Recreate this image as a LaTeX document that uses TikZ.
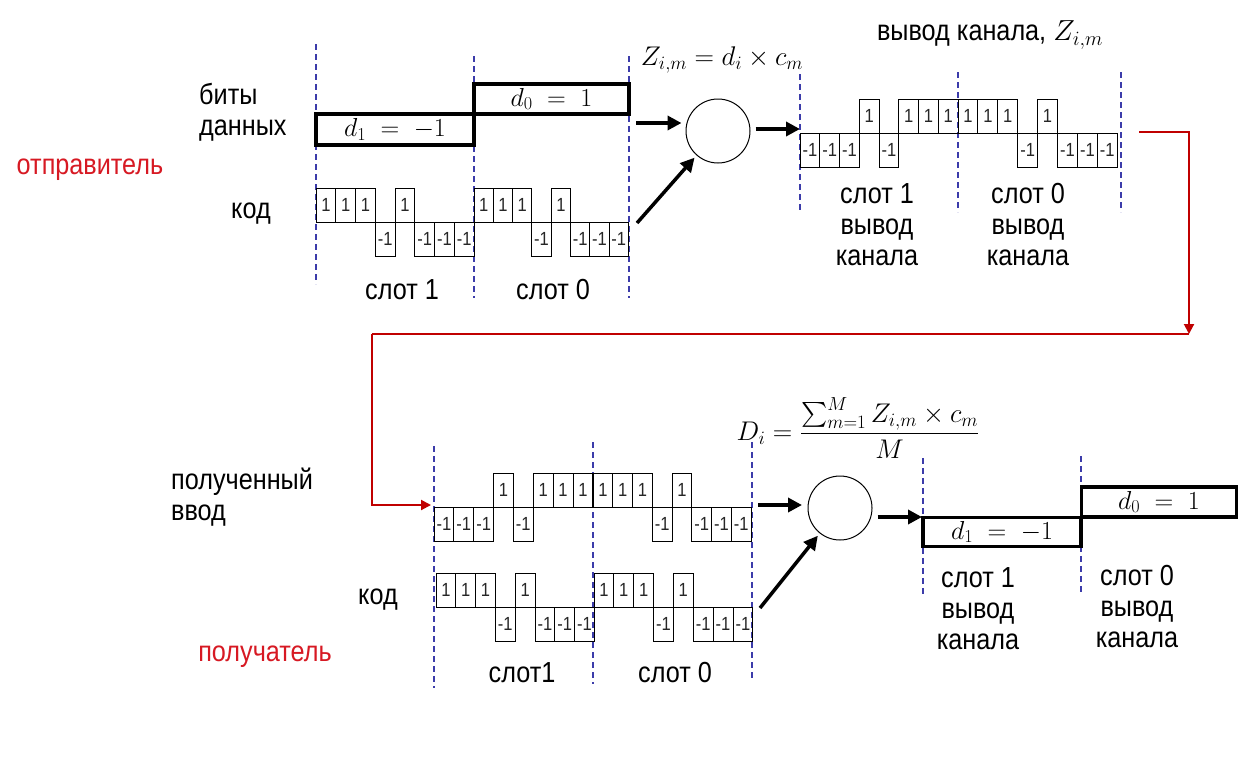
\RequirePackage{fix-cm}
\documentclass[tikz,border=0pt]{standalone}
\usepackage{amsmath}
\usepackage{fontspec}
\setmainfont{Liberation Sans}
\newfontfamily\labfont[FakeStretch=0.87]{Liberation Sans}
\usetikzlibrary{arrows.meta,calc}
\definecolor{dashblue}{RGB}{60,60,170}
\definecolor{redline}{RGB}{192,0,0}
\definecolor{redtext}{RGB}{215,25,35}
\tikzset{
  slotline/.style={dashblue, line width=1.3pt, dash pattern=on 6pt off 4pt},
  bitbox/.style={draw, line width=3.5pt, inner sep=0pt, font=\fontsize{26}{28}\selectfont},
  chip/.style={draw, line width=0.9pt},
  chiplab/.style={font=\labfont\fontsize{19}{19}\selectfont, inner sep=0pt, text=black!85},
  lab/.style={font=\labfont\fontsize{29}{31}\selectfont, align=center, inner sep=0pt},
  mathlab/.style={font=\fontsize{27}{30}\selectfont, inner sep=0pt},
  mult/.style={draw, circle, line width=1pt, minimum size=64pt, inner sep=0pt},
  bigarrow/.style={line width=3.5pt, -{Triangle[length=14pt,width=14pt]}},
  redarrow/.style={redline, line width=2pt, -{Triangle[length=10pt,width=10pt]}},
  redpath/.style={redline, line width=2pt},
}
% #1 x0, #2 baseline, #3 chip width, #4 height, #5 values, #6 name prefix
\newcommand\chipwave[6]{%
  \foreach \v [count=\k from 0] in {#5}{%
    \pgfmathsetmacro\xa{#1+\k*#3}%
    \pgfmathsetmacro\xb{#1+(\k+1)*#3}%
    \pgfmathsetmacro\xm{#1+(\k+0.5)*#3}%
    \ifnum\v>0
      \draw[chip] (\xa,#2) rectangle (\xb,#2-#4);
      \node[chiplab] (#6-\k) at (\xm,#2-#4/2) {1};
    \else
      \draw[chip] (\xa,#2) rectangle (\xb,#2+#4);
      \node[chiplab] (#6-\k) at (\xm,#2+#4/2) {-1};
    \fi
  }%
}
\begin{document}
\begin{tikzpicture}[x=1pt,y=-1pt]
\useasboundingbox[fill=white] (0,0) rectangle (1252,766);

% ---------------- sender ----------------
\draw[slotline] (316,44) -- (316,284);
\draw[slotline] (474,56) -- (474,298);
\draw[slotline] (629,56) -- (629,298);

\node[bitbox, minimum width=158pt, minimum height=31pt] (d1box) at (395,129.5) {$d_1\;=\;-1$};
\node[bitbox, minimum width=155pt, minimum height=30pt] (d0box) at (551.5,99) {$d_0\;=\;1$};

\chipwave{316}{222}{19.75}{34}{1,1,1,-1,1,-1,-1,-1}{ca}
\chipwave{474}{222}{19.3}{34}{1,1,1,-1,1,-1,-1,-1}{cb}

\node[lab, align=left, anchor=west] (bitslab) at (199,112) {биты\\данных};
\node[lab] (codelab1) at (251,214) {код};
\node[lab] (slot1a) at (402,290) {слот 1};
\node[lab] (slot0a) at (553,290) {слот 0};
\node[lab, text=redtext] (sender) at (90,170) {отправитель};

\node[mult] (mult1) at (718,131) {};
\node[mathlab] (zform) at (722,60) {$Z_{i,m} = d_i \times c_m$};

\coordinate (bitsout) at (636,123);
\coordinate (codeout) at (637,223);
\coordinate (chanin) at (800,129);
\draw[bigarrow, shorten >=4pt] (bitsout) -- (bitsout -| mult1.west);
\draw[bigarrow, shorten >=3pt] (codeout) -- (mult1);
\draw[bigarrow, shorten <=5pt] (mult1.east |- chanin) -- (chanin);

% channel output
\draw[slotline] (800,74) -- (800,212);
\draw[slotline] (958,72) -- (958,212);
\draw[slotline] (1121,72) -- (1121,212);
\chipwave{800}{133}{19.75}{34}{-1,-1,-1,1,-1,1,1,1}{za}
\chipwave{958}{133}{19.9}{34}{1,1,1,-1,1,-1,-1,-1}{zb}
\node[lab] (chanlab) at (990,35) {вывод канала, $Z_{i,m}$};
\node[lab] (chs1) at (877,225) {слот 1\\вывод\\канала};
\node[lab] (chs0) at (1028,225) {слот 0\\вывод\\канала};

% red connector
\coordinate (chanend) at (1139,132);
\coordinate (turn1) at (1189,334);
\coordinate (turn2) at (372,334);
\coordinate (rxin) at (431,505);
\draw[redarrow] (chanend) -| (turn1);
\draw[redpath] (turn1) -- (turn2);
\draw[redarrow] (turn2) |- (rxin);

% ---------------- receiver ----------------
\draw[slotline] (434,446) -- (434,688);
\draw[slotline] (593,442) -- (593,684);
\draw[slotline] (752,442) -- (752,680);

\chipwave{434}{507}{19.85}{34}{-1,-1,-1,1,-1,1,1,1}{ra}
\chipwave{593}{507}{19.75}{34}{1,1,1,-1,1,-1,-1,-1}{rb}
\chipwave{436}{607}{19.8}{34}{1,1,1,-1,1,-1,-1,-1}{ka}
\chipwave{594}{607}{19.85}{34}{1,1,1,-1,1,-1,-1,-1}{kb}

\node[lab, align=left, anchor=west] (rxlab) at (171,497) {полученный\\ввод};
\node[lab] (codelab2) at (378,600) {код};
\node[lab, text=redtext] (receiver) at (265,657) {получатель};
\node[lab] (slot1b) at (522,673) {слот1};
\node[lab] (slot0b) at (675,673) {слот 0};

\node[mult] (mult2) at (840,508) {};
\node[mathlab] (dform) at (858,428) {$\displaystyle D_i = \frac{\sum_{m=1}^{M} Z_{i,m}\times c_m}{M}$};

\coordinate (rxout) at (758,505);
\coordinate (kout) at (760,608);
\coordinate (decin) at (922,517);
\draw[bigarrow] (rxout) -- (802,505);
\draw[bigarrow, shorten >=3pt] (kout) -- (mult2);
\draw[bigarrow, shorten <=5pt] (mult2.east |- decin) -- (decin);

\draw[slotline] (923,458) -- (923,596);
\draw[slotline] (1081,456) -- (1081,594);
\node[bitbox, minimum width=158pt, minimum height=29pt] (od1) at (1002,532) {$d_1\;=\;-1$};
\node[bitbox, minimum width=155pt, minimum height=30pt] (od0) at (1159,502) {$d_0\;=\;1$};
\node[lab] (os1) at (978,609) {слот 1\\вывод\\канала};
\node[lab] (os0) at (1137,607) {слот 0\\вывод\\канала};
\end{tikzpicture}
\end{document}
